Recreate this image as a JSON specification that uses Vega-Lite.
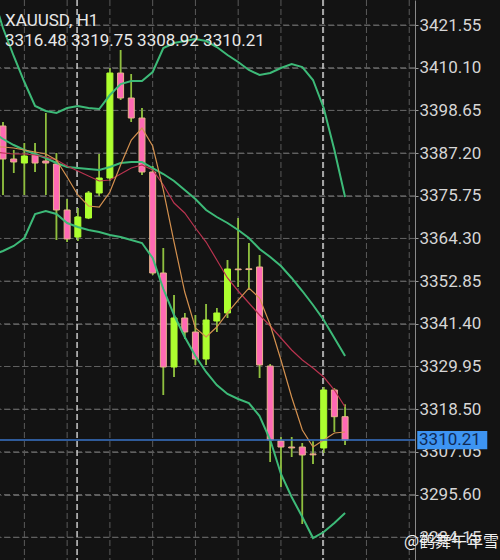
{
  "$schema": "https://vega.github.io/schema/vega-lite/v6.json",
  "width": 415,
  "height": 560,
  "autosize": {"type": "none"},
  "padding": {"left": 0, "top": 0, "right": 85, "bottom": 0},
  "background": "#131313",
  "config": {
    "view": {"stroke": null},
    "font": "Roboto",
    "axisY": {
      "labelColor": "#d6d6d6",
      "labelFont": "Roboto",
      "labelFontSize": 17,
      "tickColor": "#9a9a9a",
      "tickSize": 3,
      "labelPadding": 1,
      "domainColor": "#8a8a8a"
    }
  },
  "datasets": {
    "candles": [
      {"i": 0, "o": 3394.46, "h": 3395.5, "l": 3375.95, "c": 3385.61},
      {"i": 1, "o": 3385.61, "h": 3388.02, "l": 3381.85, "c": 3384.80},
      {"i": 2, "o": 3384.53, "h": 3389.90, "l": 3375.95, "c": 3386.41},
      {"i": 3, "o": 3386.68, "h": 3389.90, "l": 3382.12, "c": 3384.53},
      {"i": 4, "o": 3385.07, "h": 3397.94, "l": 3375.95, "c": 3384.53},
      {"i": 5, "o": 3384.26, "h": 3387.22, "l": 3363.88, "c": 3371.93},
      {"i": 6, "o": 3371.93, "h": 3374.88, "l": 3363.34, "c": 3364.15},
      {"i": 7, "o": 3364.68, "h": 3372.46, "l": 3363.61, "c": 3370.05},
      {"i": 8, "o": 3369.78, "h": 3377.02, "l": 3369.50, "c": 3376.49},
      {"i": 9, "o": 3376.49, "h": 3386.95, "l": 3375.68, "c": 3380.51},
      {"i": 10, "o": 3380.51, "h": 3410.02, "l": 3379.70, "c": 3408.67},
      {"i": 11, "o": 3408.67, "h": 3414.84, "l": 3401.43, "c": 3401.97},
      {"i": 12, "o": 3401.97, "h": 3408.41, "l": 3395.53, "c": 3396.60},
      {"i": 13, "o": 3396.60, "h": 3399.29, "l": 3381.31, "c": 3382.12},
      {"i": 14, "o": 3382.12, "h": 3383.73, "l": 3354.49, "c": 3355.03},
      {"i": 15, "o": 3355.03, "h": 3361.73, "l": 3322.30, "c": 3329.81},
      {"i": 16, "o": 3329.81, "h": 3349.13, "l": 3327.13, "c": 3342.96},
      {"i": 17, "o": 3342.96, "h": 3344.30, "l": 3337.32, "c": 3339.20},
      {"i": 18, "o": 3339.20, "h": 3343.76, "l": 3330.35, "c": 3331.96},
      {"i": 19, "o": 3331.96, "h": 3346.71, "l": 3330.35, "c": 3342.42},
      {"i": 20, "o": 3342.15, "h": 3345.64, "l": 3339.20, "c": 3344.30},
      {"i": 21, "o": 3344.30, "h": 3358.51, "l": 3342.96, "c": 3356.10},
      {"i": 22, "o": 3356.10, "h": 3369.78, "l": 3351.27, "c": 3355.90},
      {"i": 23, "o": 3356.15, "h": 3363.07, "l": 3350.47, "c": 3355.95},
      {"i": 24, "o": 3356.64, "h": 3359.85, "l": 3326.86, "c": 3330.35},
      {"i": 25, "o": 3330.08, "h": 3330.60, "l": 3304.33, "c": 3310.23},
      {"i": 26, "o": 3309.96, "h": 3311.04, "l": 3297.62, "c": 3308.35},
      {"i": 27, "o": 3308.35, "h": 3311.04, "l": 3305.67, "c": 3308.10},
      {"i": 28, "o": 3308.35, "h": 3309.43, "l": 3287.70, "c": 3306.21},
      {"i": 29, "o": 3306.50, "h": 3309.80, "l": 3303.79, "c": 3306.25},
      {"i": 30, "o": 3308.09, "h": 3324.45, "l": 3306.75, "c": 3323.65},
      {"i": 31, "o": 3323.65, "h": 3324.10, "l": 3312.38, "c": 3316.48},
      {"i": 32, "o": 3316.48, "h": 3319.75, "l": 3308.92, "c": 3310.21}
    ],
    "lines": [
      {"i": -1, "u": 3429.87, "m": 3392.85, "lo": 3359.86, "f": 3388.83, "s": 3387.48},
      {"i": 0, "u": 3420.75, "m": 3390.97, "lo": 3360.93, "f": 3388.83, "s": 3387.22},
      {"i": 1, "u": 3413.24, "m": 3389.36, "lo": 3362.27, "f": 3388.56, "s": 3386.95},
      {"i": 2, "u": 3406.26, "m": 3388.02, "lo": 3364.42, "f": 3388.02, "s": 3386.95},
      {"i": 3, "u": 3399.82, "m": 3386.95, "lo": 3370.85, "f": 3387.48, "s": 3386.68},
      {"i": 4, "u": 3398.48, "m": 3385.87, "lo": 3371.66, "f": 3386.95, "s": 3386.14},
      {"i": 5, "u": 3397.94, "m": 3384.53, "lo": 3370.85, "f": 3385.34, "s": 3385.34},
      {"i": 6, "u": 3399.29, "m": 3383.46, "lo": 3368.44, "f": 3380.78, "s": 3383.73},
      {"i": 7, "u": 3399.82, "m": 3383.19, "lo": 3367.37, "f": 3375.95, "s": 3382.39},
      {"i": 8, "u": 3399.29, "m": 3382.92, "lo": 3366.56, "f": 3373.00, "s": 3381.05},
      {"i": 9, "u": 3399.02, "m": 3382.66, "lo": 3366.02, "f": 3372.73, "s": 3379.71},
      {"i": 10, "u": 3402.77, "m": 3383.46, "lo": 3365.22, "f": 3376.75, "s": 3379.97},
      {"i": 11, "u": 3405.72, "m": 3384.53, "lo": 3364.68, "f": 3384.00, "s": 3381.58},
      {"i": 12, "u": 3406.53, "m": 3384.80, "lo": 3363.88, "f": 3390.70, "s": 3383.19},
      {"i": 13, "u": 3406.53, "m": 3384.80, "lo": 3363.07, "f": 3393.92, "s": 3384.00},
      {"i": 14, "u": 3408.94, "m": 3383.19, "lo": 3359.05, "f": 3389.09, "s": 3382.66},
      {"i": 15, "u": 3415.38, "m": 3381.58, "lo": 3350.73, "f": 3377.29, "s": 3378.63},
      {"i": 16, "u": 3416.72, "m": 3379.71, "lo": 3343.76, "f": 3363.34, "s": 3373.80},
      {"i": 17, "u": 3417.26, "m": 3377.29, "lo": 3337.86, "f": 3349.93, "s": 3371.12},
      {"i": 18, "u": 3417.79, "m": 3374.88, "lo": 3332.76, "f": 3340.27, "s": 3367.10},
      {"i": 19, "u": 3417.26, "m": 3371.93, "lo": 3328.47, "f": 3337.86, "s": 3363.34},
      {"i": 20, "u": 3415.65, "m": 3370.05, "lo": 3324.98, "f": 3340.54, "s": 3358.51},
      {"i": 21, "u": 3413.50, "m": 3368.44, "lo": 3322.57, "f": 3344.30, "s": 3353.69},
      {"i": 22, "u": 3411.63, "m": 3366.56, "lo": 3321.23, "f": 3347.78, "s": 3350.20},
      {"i": 23, "u": 3409.48, "m": 3364.42, "lo": 3320.15, "f": 3351.00, "s": 3346.98},
      {"i": 24, "u": 3408.14, "m": 3361.46, "lo": 3316.67, "f": 3348.32, "s": 3343.76},
      {"i": 25, "u": 3408.67, "m": 3359.32, "lo": 3310.23, "f": 3341.08, "s": 3340.81},
      {"i": 26, "u": 3410.02, "m": 3356.90, "lo": 3301.11, "f": 3331.69, "s": 3337.59},
      {"i": 27, "u": 3411.09, "m": 3353.69, "lo": 3294.94, "f": 3321.77, "s": 3334.37},
      {"i": 28, "u": 3410.28, "m": 3350.20, "lo": 3289.58, "f": 3312.91, "s": 3331.69},
      {"i": 29, "u": 3406.80, "m": 3346.44, "lo": 3283.94, "f": 3308.35, "s": 3329.54},
      {"i": 30, "u": 3399.29, "m": 3342.42, "lo": 3285.55, "f": 3310.23, "s": 3327.13},
      {"i": 31, "u": 3388.02, "m": 3337.59, "lo": 3287.97, "f": 3312.11, "s": 3323.64},
      {"i": 32, "u": 3375.41, "m": 3332.76, "lo": 3290.65, "f": 3312.38, "s": 3319.08}
    ],
    "vgrid": [{"g": 2}, {"g": 6}, {"g": 10}, {"g": 14}, {"g": 18}, {"g": 22}, {"g": 26}, {"g": 30}, {"g": 34}, {"g": 38}],
    "hgrid": [{"price": 3284.15}, {"price": 3295.60}, {"price": 3307.05}, {"price": 3318.50}, {"price": 3329.95}, {"price": 3341.40}, {"price": 3352.85}, {"price": 3364.30}, {"price": 3375.75}, {"price": 3387.20}, {"price": 3398.65}, {"price": 3410.10}, {"price": 3421.55}],
    "seps": [{"g": 6.93}, {"g": 29.93}],
    "one": [{"k": 1}]
  },
  "layer": [
    {
      "data": {"name": "candles"},
      "mark": {"type": "rule", "color": "#8fbf3f", "strokeWidth": 1.5},
      "encoding": {
        "x": {"field": "i", "type": "quantitative", "scale": {"domain": [-0.2806, 38.54], "nice": false, "zero": false, "padding": 0}, "axis": null},
        "y": {
          "field": "l", "type": "quantitative", "title": null,
          "scale": {"domain": [3278.04, 3428.26], "nice": false, "zero": false, "padding": 0},
          "axis": {"orient": "right", "values": [3284.15, 3295.60, 3307.05, 3318.50, 3329.95, 3341.40, 3352.85, 3364.30, 3375.75, 3387.20, 3398.65, 3410.10, 3421.55], "format": ".2f", "grid": true, "gridColor": "#606060", "gridDash": [6, 3], "gridWidth": 1, "gridOpacity": 1, "title": null}
        },
        "y2": {"field": "h"}
      }
    },
    {
      "data": {"name": "hgrid"},
      "mark": {"type": "rule", "stroke": "#606060", "strokeDash": [6, 3], "strokeWidth": 1, "opacity": 1},
      "encoding": {
        "x": {"datum": 38.54, "type": "quantitative", "scale": {"domain": [-0.2806, 38.54], "nice": false, "zero": false, "padding": 0}, "axis": null},
        "x2": {"datum": -0.2806},
        "y": {"field": "price", "type": "quantitative", "title": null, "scale": {"domain": [3278.04, 3428.26], "nice": false, "zero": false, "padding": 0}}
      }
    },
    {
      "data": {"name": "vgrid"},
      "mark": {"type": "rule", "color": "#5a5a5a", "strokeDash": [6, 3], "strokeWidth": 1},
      "encoding": {
        "x": {"field": "g", "type": "quantitative", "scale": {"domain": [-0.2806, 38.54], "nice": false, "zero": false, "padding": 0}, "axis": null}
      }
    },
    {
      "data": {"name": "seps"},
      "mark": {"type": "rule", "color": "#c8c8c8", "strokeDash": [6, 3], "strokeWidth": 1.5},
      "encoding": {
        "x": {"field": "g", "type": "quantitative", "scale": {"domain": [-0.2806, 38.54], "nice": false, "zero": false, "padding": 0}, "axis": null}
      }
    },
    {
      "data": {"name": "candles"},
      "mark": {"type": "rule", "color": "#8fbf3f", "strokeWidth": 1.5},
      "encoding": {
        "x": {"field": "i", "type": "quantitative", "scale": {"domain": [-0.2806, 38.54], "nice": false, "zero": false, "padding": 0}, "axis": null},
        "y": {"field": "l", "type": "quantitative", "title": null, "scale": {"domain": [3278.04, 3428.26], "nice": false, "zero": false, "padding": 0}},
        "y2": {"field": "h"}
      }
    },
    {
      "data": {"name": "candles"},
      "mark": {"type": "bar", "size": 6, "strokeWidth": 1, "opacity": 1},
      "encoding": {
        "x": {"field": "i", "type": "quantitative", "scale": {"domain": [-0.2806, 38.54], "nice": false, "zero": false, "padding": 0}, "axis": null},
        "y": {"field": "o", "type": "quantitative", "title": null, "scale": {"domain": [3278.04, 3428.26], "nice": false, "zero": false, "padding": 0}},
        "y2": {"field": "c"},
        "color": {"condition": {"test": "datum.c >= datum.o", "value": "#adff2f"}, "value": "#ff69b4"},
        "stroke": {"condition": {"test": "datum.c >= datum.o", "value": "#adff2f"}, "value": "#e8b48c"}
      }
    },
    {
      "data": {"name": "lines"},
      "mark": {"type": "line", "color": "#3dba78", "strokeWidth": 2},
      "encoding": {
        "x": {"field": "i", "type": "quantitative", "scale": {"domain": [-0.2806, 38.54], "nice": false, "zero": false, "padding": 0}, "axis": null},
        "y": {"field": "u", "type": "quantitative", "title": null, "scale": {"domain": [3278.04, 3428.26], "nice": false, "zero": false, "padding": 0}}
      }
    },
    {
      "data": {"name": "lines"},
      "mark": {"type": "line", "color": "#3dba78", "strokeWidth": 2},
      "encoding": {
        "x": {"field": "i", "type": "quantitative", "scale": {"domain": [-0.2806, 38.54], "nice": false, "zero": false, "padding": 0}, "axis": null},
        "y": {"field": "m", "type": "quantitative", "title": null, "scale": {"domain": [3278.04, 3428.26], "nice": false, "zero": false, "padding": 0}}
      }
    },
    {
      "data": {"name": "lines"},
      "mark": {"type": "line", "color": "#3dba78", "strokeWidth": 2},
      "encoding": {
        "x": {"field": "i", "type": "quantitative", "scale": {"domain": [-0.2806, 38.54], "nice": false, "zero": false, "padding": 0}, "axis": null},
        "y": {"field": "lo", "type": "quantitative", "title": null, "scale": {"domain": [3278.04, 3428.26], "nice": false, "zero": false, "padding": 0}}
      }
    },
    {
      "data": {"name": "lines"},
      "mark": {"type": "line", "color": "#b8334f", "strokeWidth": 1.2},
      "encoding": {
        "x": {"field": "i", "type": "quantitative", "scale": {"domain": [-0.2806, 38.54], "nice": false, "zero": false, "padding": 0}, "axis": null},
        "y": {"field": "s", "type": "quantitative", "title": null, "scale": {"domain": [3278.04, 3428.26], "nice": false, "zero": false, "padding": 0}}
      }
    },
    {
      "data": {"name": "lines"},
      "mark": {"type": "line", "color": "#d4914f", "strokeWidth": 1.2},
      "encoding": {
        "x": {"field": "i", "type": "quantitative", "scale": {"domain": [-0.2806, 38.54], "nice": false, "zero": false, "padding": 0}, "axis": null},
        "y": {"field": "f", "type": "quantitative", "title": null, "scale": {"domain": [3278.04, 3428.26], "nice": false, "zero": false, "padding": 0}}
      }
    },
    {
      "data": {"name": "one"},
      "mark": {"type": "rule", "color": "#3a74c8", "strokeWidth": 1.5},
      "encoding": {
        "x": {"datum": -0.2806, "type": "quantitative", "scale": {"domain": [-0.2806, 38.54], "nice": false, "zero": false, "padding": 0}, "axis": null},
        "x2": {"datum": 38.54},
        "y": {"datum": 3310.21, "type": "quantitative", "title": null, "scale": {"domain": [3278.04, 3428.26], "nice": false, "zero": false, "padding": 0}}
      }
    },
    {
      "data": {"name": "one"},
      "mark": {"type": "rect", "color": "#3d94f2", "clip": false},
      "encoding": {
        "x": {"datum": 38.75, "type": "quantitative", "scale": {"domain": [-0.2806, 38.54], "nice": false, "zero": false, "padding": 0}, "axis": null},
        "x2": {"datum": 45.3},
        "y": {"datum": 3312.66, "type": "quantitative", "title": null, "scale": {"domain": [3278.04, 3428.26], "nice": false, "zero": false, "padding": 0}},
        "y2": {"datum": 3307.76}
      }
    },
    {
      "data": {"name": "one"},
      "mark": {"type": "text", "text": "3310.21", "align": "left", "baseline": "middle", "font": "Roboto", "fontSize": 17, "color": "#102a55"},
      "encoding": {
        "x": {"datum": 38.92, "type": "quantitative", "scale": {"domain": [-0.2806, 38.54], "nice": false, "zero": false, "padding": 0}, "axis": null},
        "y": {"datum": 3310.21, "type": "quantitative", "title": null, "scale": {"domain": [3278.04, 3428.26], "nice": false, "zero": false, "padding": 0}}
      }
    },
    {
      "data": {"name": "one"},
      "mark": {"type": "text", "text": "XAUUSD, H1", "align": "left", "baseline": "alphabetic", "font": "Roboto", "fontSize": 17, "color": "#e8e8e8"},
      "encoding": {
        "x": {"datum": 0.19, "type": "quantitative", "scale": {"domain": [-0.2806, 38.54], "nice": false, "zero": false, "padding": 0}, "axis": null},
        "y": {"datum": 3421.28, "type": "quantitative", "title": null, "scale": {"domain": [3278.04, 3428.26], "nice": false, "zero": false, "padding": 0}}
      }
    },
    {
      "data": {"name": "one"},
      "mark": {"type": "text", "text": "3316.48 3319.75 3308.92 3310.21", "align": "left", "baseline": "alphabetic", "font": "Roboto", "fontSize": 17, "color": "#e8e8e8"},
      "encoding": {
        "x": {"datum": 0.19, "type": "quantitative", "scale": {"domain": [-0.2806, 38.54], "nice": false, "zero": false, "padding": 0}, "axis": null},
        "y": {"datum": 3415.92, "type": "quantitative", "title": null, "scale": {"domain": [3278.04, 3428.26], "nice": false, "zero": false, "padding": 0}}
      }
    },
    {
      "data": {"name": "one"},
      "mark": {"type": "text", "text": "@鹤舞午年雪", "align": "left", "baseline": "middle", "font": "Noto Sans CJK SC", "fontSize": 16, "color": "#f0f0f0"},
      "encoding": {
        "x": {"datum": 37.5, "type": "quantitative", "scale": {"domain": [-0.2806, 38.54], "nice": false, "zero": false, "padding": 0}, "axis": null},
        "y": {"datum": 3282.87, "type": "quantitative", "title": null, "scale": {"domain": [3278.04, 3428.26], "nice": false, "zero": false, "padding": 0}}
      }
    }
  ]
}
